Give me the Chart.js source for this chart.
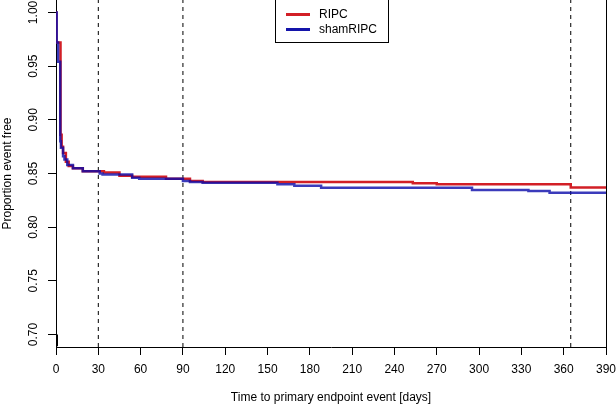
<!DOCTYPE html>
<html>
<head>
<meta charset="utf-8">
<script src="https://cdn.jsdelivr.net/npm/chart.js@4.4.1/dist/chart.umd.min.js"></script>
<style>
  html, body { margin: 0; padding: 0; background: #fff; }
</style>
</head>
<body>
<canvas id="kmChart" width="616" height="405"></canvas>
<script>
// tick labels
const xTicks = [0, 30, 60, 90, 120, 150, 180, 210, 240, 270, 300, 330, 360, 390];
const yTicks = [0.70, 0.75, 0.80, 0.85, 0.90, 0.95, 1.00];

// reference lines (days)
const refDays = [30, 90, 365];

// RIPC step curve
const ripcDays = [0, 0.3, 3.2, 4, 5, 7, 9, 12, 19, 34, 45, 54, 78, 95, 104, 253, 270, 365, 390];
const ripcSurv = [1.000, 0.972, 0.886, 0.875, 0.869, 0.861, 0.857, 0.855, 0.852, 0.851, 0.848, 0.847, 0.845, 0.843, 0.842, 0.841, 0.840, 0.837, 0.837];

// shamRIPC step curve
const shamDays = [0, 0.5, 1.5, 3, 3.5, 5, 6, 8, 12, 19, 31, 33, 54, 59, 90, 95, 104, 157, 169, 188, 295, 335, 350, 390];
const shamSurv = [1.000, 0.972, 0.954, 0.880, 0.874, 0.866, 0.863, 0.858, 0.855, 0.852, 0.850, 0.849, 0.846, 0.845, 0.843, 0.842, 0.8415, 0.840, 0.8387, 0.8368, 0.8346, 0.8337, 0.832, 0.832];

// small black mark at the origin
const markDays = [0, 0];
const markSurv = [0.700, 0.689];

const yMin = 0.6884, yMax = 1.0116;
const FONT = '"Liberation Sans", Arial, sans-serif';

const toPts = (xs, ys) => xs.map((x, i) => ({ x: x, y: ys[i] }));

const datasets = [
    { label: 'shamRIPC', data: toPts(shamDays, shamSurv), stepped: true,
      borderColor: 'rgba(10,10,170,0.8)', borderWidth: 2.5, pointRadius: 0, order: 1 },
    { label: 'RIPC', data: toPts(ripcDays, ripcSurv), stepped: true,
      borderColor: '#d21f26', borderWidth: 2.5, pointRadius: 0, order: 2 },
    { label: 'mark', data: toPts(markDays, markSurv),
      borderColor: '#000', borderWidth: 4, pointRadius: 0, order: 0 }
];
refDays.forEach(d => {
    datasets.push({ label: 'ref' + d, data: toPts([d, d], [yMin, yMax]),
        borderColor: '#000', borderWidth: 1, borderDash: [4, 4], pointRadius: 0, order: 3 });
});

const extras = {
    id: 'extras',
    afterDraw(chart) {
        const { ctx, chartArea, scales: { y } } = chart;
        ctx.save();
        ctx.font = '12px ' + FONT;
        ctx.fillStyle = '#000';
        ctx.textAlign = 'center';
        ctx.textBaseline = 'middle';
        yTicks.forEach(v => {
            ctx.save();
            ctx.translate(33.5, y.getPixelForValue(v));
            ctx.rotate(-Math.PI / 2);
            ctx.fillText(v.toFixed(2), 0, 0);
            ctx.restore();
        });

        // right border
        ctx.strokeStyle = '#000';
        ctx.lineWidth = 1;
        const rx = Math.round(chartArea.right) + 0.5;
        ctx.beginPath();
        ctx.moveTo(rx, chartArea.top);
        ctx.lineTo(rx, chartArea.bottom);
        ctx.stroke();

        // legend
        ctx.fillStyle = '#fff';
        ctx.fillRect(276, 0, 112, 42);
        ctx.strokeRect(275.5, -0.5, 113, 43);
        ctx.lineWidth = 3;
        ctx.strokeStyle = '#d21f26';
        ctx.beginPath(); ctx.moveTo(286, 14.5); ctx.lineTo(310, 14.5); ctx.stroke();
        ctx.strokeStyle = '#1414aa';
        ctx.beginPath(); ctx.moveTo(286, 29.5); ctx.lineTo(310, 29.5); ctx.stroke();
        ctx.fillStyle = '#000';
        ctx.textAlign = 'left';
        ctx.fillText('RIPC', 319, 14.5);
        ctx.fillText('shamRIPC', 319, 30);
        ctx.restore();
    }
};

const ctx = document.getElementById('kmChart').getContext('2d');
const kmChart = new Chart(ctx, {
    type: 'line',
    data: { datasets: datasets },
    options: {
        responsive: false,
        animation: false,
        layout: { autoPadding: false, padding: { left: 0, right: 10, top: 0, bottom: 0 } },
        plugins: { legend: { display: false }, tooltip: { enabled: false } },
        scales: {
            x: {
                type: 'linear', min: 0, max: 390,
                afterBuildTicks: s => { s.ticks = xTicks.map(v => ({ value: v })); },
                afterFit: s => { s.height = 58; s.paddingLeft = 0; s.paddingRight = 0; },
                grid: { drawOnChartArea: false, drawTicks: true, tickLength: 8, color: '#000' },
                border: { color: '#000' },
                ticks: { color: '#000', font: { family: FONT, size: 12 }, padding: 7, maxRotation: 0 },
                title: { display: true, text: 'Time to primary endpoint event [days]', color: '#000',
                         font: { family: FONT, size: 12 }, padding: 0 }
            },
            y: {
                type: 'linear', min: yMin, max: yMax,
                afterBuildTicks: s => { s.ticks = yTicks.map(v => ({ value: v })); },
                afterFit: s => { s.width = 56; s.paddingTop = 0; s.paddingBottom = 0; },
                grid: { drawOnChartArea: false, drawTicks: true, tickLength: 8, color: '#000' },
                border: { color: '#000' },
                ticks: { display: false },
                title: { display: true, text: 'Proportion event free', color: '#000',
                         font: { family: FONT, size: 12 }, padding: 0 }
            }
        }
    },
    plugins: [extras]
});
</script>
</body>
</html>
